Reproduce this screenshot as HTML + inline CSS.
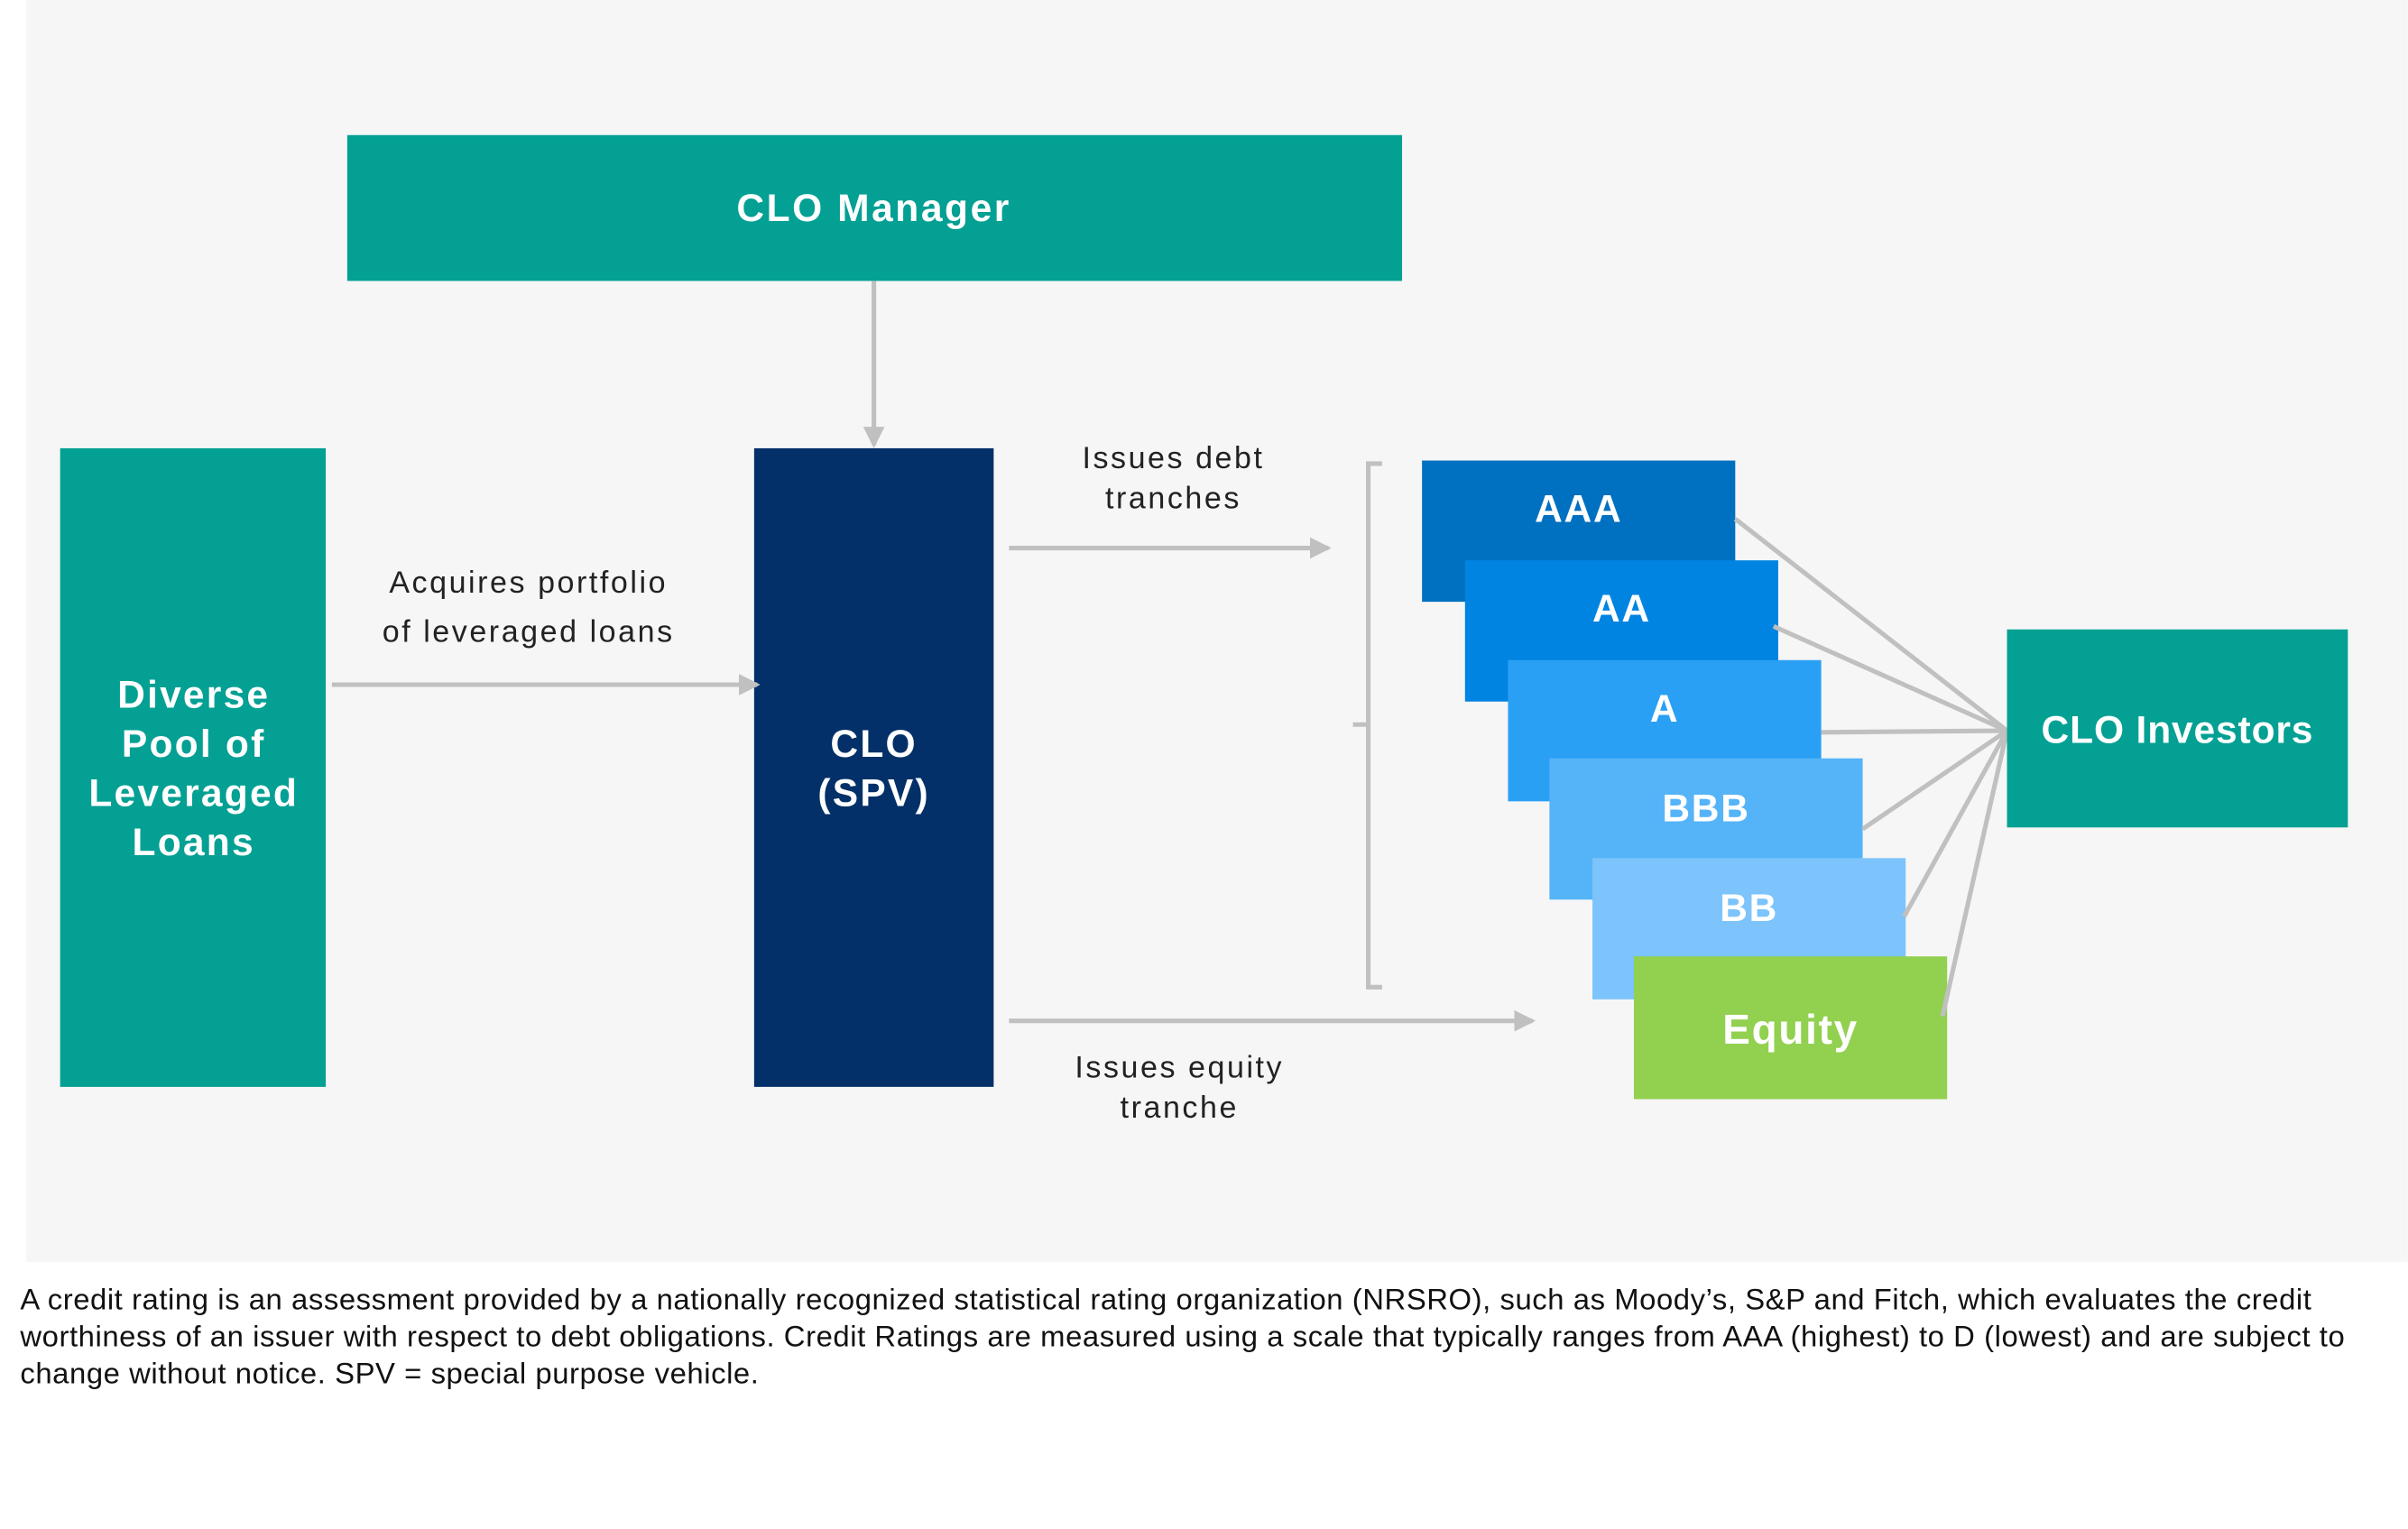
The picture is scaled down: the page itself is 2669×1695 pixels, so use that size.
<!DOCTYPE html>
<html><head><meta charset="utf-8"><style>
html,body{margin:0;padding:0;background:#fff;}
svg{display:block;}
text{font-family:"Liberation Sans",sans-serif;}
</style></head><body>
<svg width="2669" height="1695" viewBox="0 0 1568 996" xmlns="http://www.w3.org/2000/svg">
<defs><marker id="ah" markerWidth="14" markerHeight="14" refX="12" refY="7" orient="auto" markerUnits="userSpaceOnUse"><path d="M0,0 L14,7 L0,14 z" fill="#c0c0c0"/></marker></defs>
<rect x="0" y="0" width="1568" height="996" fill="#fff"/>
<rect x="17" y="0" width="1551" height="822" fill="#f6f6f6"/>
<rect x="226" y="88" width="687" height="95" fill="#03a093"/>
<g fill="#fff" font-size="25" font-weight="bold" text-anchor="middle" letter-spacing="1.5">
<text x="569" y="144">CLO Manager</text></g>
<line x1="569" y1="183" x2="569" y2="290" stroke="#c0c0c0" stroke-width="3" marker-end="url(#ah)"/>
<rect x="39" y="292" width="173" height="416" fill="#03a093"/>
<g fill="#fff" font-size="25" font-weight="bold" text-anchor="middle" letter-spacing="1.3">
<text x="126" y="461">Diverse</text><text x="126" y="493">Pool of</text><text x="126" y="525">Leveraged</text><text x="126" y="557">Loans</text></g>
<rect x="491" y="292" width="156" height="416" fill="#033068"/>
<g fill="#fff" font-size="25" font-weight="bold" text-anchor="middle" letter-spacing="1.3">
<text x="569" y="493">CLO</text><text x="569" y="525">(SPV)</text></g>
<line x1="216" y1="446" x2="493" y2="446" stroke="#c0c0c0" stroke-width="3" marker-end="url(#ah)"/>
<g fill="#222" font-size="20" text-anchor="middle" letter-spacing="1.5">
<text x="344" y="386">Acquires portfolio</text><text x="344" y="418">of leveraged loans</text>
<text x="764" y="305">Issues debt</text><text x="764" y="331">tranches</text>
<text x="768" y="702">Issues equity</text><text x="768" y="728">tranche</text></g>
<line x1="657" y1="357" x2="865" y2="357" stroke="#c0c0c0" stroke-width="3" marker-end="url(#ah)"/>
<line x1="657" y1="665" x2="998" y2="665" stroke="#c0c0c0" stroke-width="3" marker-end="url(#ah)"/>
<path d="M900,302 L891,302 L891,472 L881,472 M891,472 L891,643 L900,643" fill="none" stroke="#c0c0c0" stroke-width="3"/>
<rect x="926" y="300" width="204" height="92" fill="#0070c0"/>
<rect x="954" y="365" width="204" height="92" fill="#0084e2"/>
<rect x="982" y="430" width="204" height="92" fill="#2aa0f5"/>
<rect x="1009" y="494" width="204" height="92" fill="#55b4f8"/>
<rect x="1037" y="559" width="204" height="92" fill="#7cc4fb"/>
<rect x="1064" y="623" width="204" height="93" fill="#92d050"/>
<g fill="#fff" font-size="25" font-weight="bold" text-anchor="middle" letter-spacing="1">
<text x="1028" y="340">AAA</text><text x="1056" y="405">AA</text><text x="1084" y="470">A</text>
<text x="1111" y="535">BBB</text><text x="1139" y="600">BB</text><text x="1166" y="680" font-size="27">Equity</text></g>
<g stroke="#c0c0c0" stroke-width="3">
<line x1="1130" y1="338" x2="1307" y2="476"/><line x1="1155" y1="408" x2="1307" y2="476"/>
<line x1="1186" y1="477" x2="1307" y2="476"/><line x1="1213" y1="540" x2="1307" y2="476"/>
<line x1="1240" y1="597" x2="1307" y2="476"/><line x1="1265" y1="662" x2="1307" y2="476"/></g>
<rect x="1307" y="410" width="222" height="129" fill="#03a093"/>
<text x="1418" y="484" fill="#fff" font-size="25" font-weight="bold" text-anchor="middle" letter-spacing="0.5">CLO Investors</text>
<g fill="#111" font-size="19.3" letter-spacing="0.33">
<text x="13" y="853">A credit rating is an assessment provided by a nationally recognized statistical rating organization (NRSRO), such as Moody’s, S&amp;P and Fitch, which evaluates the credit</text>
<text x="13" y="877">worthiness of an issuer with respect to debt obligations. Credit Ratings are measured using a scale that typically ranges from AAA (highest) to D (lowest) and are subject to</text>
<text x="13" y="901">change without notice. SPV = special purpose vehicle.</text></g>
</svg>
</body></html>
